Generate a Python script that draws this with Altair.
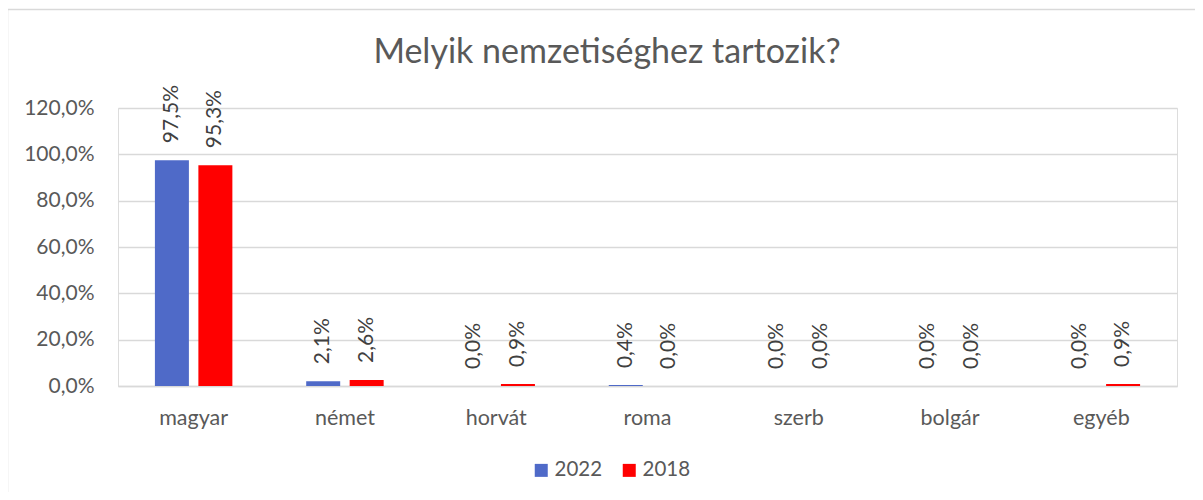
import altair as alt
import pandas as pd

categories = ["magyar", "német", "horvát", "roma", "szerb", "bolgár", "egyéb"]
years = ["2022", "2018"]
v2022 = [97.5, 2.1, 0.0, 0.4, 0.0, 0.0, 0.0]
v2018 = [95.3, 2.6, 0.9, 0.0, 0.0, 0.0, 0.9]
y_ticks = [0, 20, 40, 60, 80, 100, 120]
title_text = "Melyik nemzetiséghez tartozik?"
colors = ["#4F6AC8", "#FF0000"]

rows = []
for c, a, b in zip(categories, v2022, v2018):
    rows.append({"cat": c, "year": "2022", "value": a})
    rows.append({"cat": c, "year": "2018", "value": b})
df = pd.DataFrame(rows)

FONT = "Lato"
W, H = 1059, 278

x_enc = alt.X("cat:N", sort=categories, title=None,
              scale=alt.Scale(paddingInner=0.488, paddingOuter=0.244),
              axis=alt.Axis(labelAngle=0, ticks=False, domain=True, domainColor="#d9d9d9",
                            domainWidth=1.5, labelFontSize=21.5, labelColor="#595959",
                            labelFont=FONT, labelPadding=21, grid=False))
xo_enc = alt.XOffset("year:N", sort=years, scale=alt.Scale(paddingInner=0.218))
y_enc = alt.Y("value:Q", title=None,
              scale=alt.Scale(domain=[0, 120], nice=False),
              axis=alt.Axis(values=y_ticks, ticks=False, domain=False,
                            gridColor="#d9d9d9", gridWidth=1.5,
                            labelFontSize=21, labelColor="#595959", labelFont=FONT,
                            labelPadding=24,
                            labelExpr="replace(format(datum.value, '.1f'), '.', ',') + '%'"))
color_enc = alt.Color("year:N", scale=alt.Scale(domain=years, range=colors),
                      legend=alt.Legend(title=None, orient="none", direction="horizontal",
                                        legendX=413, legendY=352, symbolType="square",
                                        symbolSize=169, symbolStrokeWidth=0,
                                        labelFontSize=20.5, labelColor="#595959",
                                        labelFont=FONT, labelOffset=3, columnPadding=16,
                                        padding=0))

base = alt.Chart(df)

bars = base.mark_bar().encode(x=x_enc, xOffset=xo_enc, y=y_enc, color=color_enc)

labels = base.mark_text(angle=270, align="left", baseline="middle", dx=17,
                        fontSize=21, font=FONT, color="#404040").transform_calculate(
    lbl="replace(format(datum.value, '.1f'), '.', ',') + '%'"
).encode(x=x_enc, xOffset=xo_enc, y=y_enc, text="lbl:N")

border = alt.Chart(pd.DataFrame({"k": [0]})).mark_rect(
    fill=None, stroke="#d9d9d9", strokeWidth=1.5
).encode(x=alt.value(-110.5), x2=alt.value(1100), y=alt.value(-98.5), y2=alt.value(420))

title = alt.Chart(pd.DataFrame({"t": [title_text]})).mark_text(
    fontSize=34, font=FONT, color="#595959", align="center", baseline="alphabetic"
).encode(text="t:N", x=alt.value(489), y=alt.value(-45))

chart = alt.layer(border, bars, labels, title).properties(
    width=W, height=H,
    autosize=alt.AutoSizeParams(type="none"),
    padding={"left": 110, "top": 100, "right": 18, "bottom": 106},
).configure_view(stroke=None).configure(background="white")

chart.save("out.html", embed_options={"renderer": "svg", "actions": False})
